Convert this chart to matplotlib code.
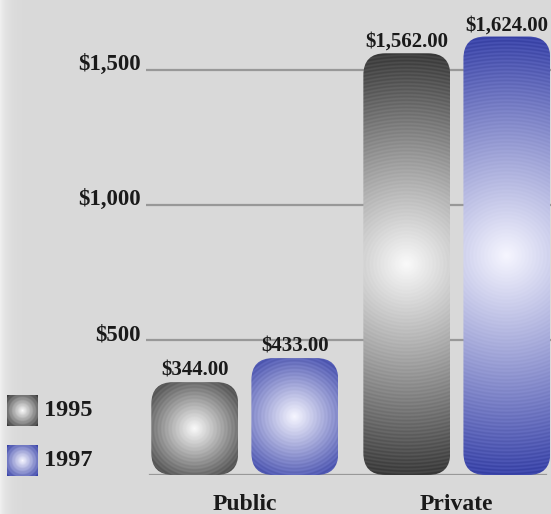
import numpy as np
import matplotlib
matplotlib.use("Agg")
import matplotlib.pyplot as plt
from matplotlib.patches import FancyBboxPatch
from matplotlib.transforms import blended_transform_factory

# ---- data -------------------------------------------------------------
categories = ["Public", "Private"]
years = ["1995", "1997"]
tuition_1995 = [344.00, 1562.00]
tuition_1997 = [433.00, 1624.00]
series = [tuition_1995, tuition_1997]
tick_values = [500, 1000, 1500]
tick_labels = ["$500", "$1,000", "$1,500"]

# ---- styling ----------------------------------------------------------
W, H, DPI = 551, 514, 100
BG = "#d9d9d9"
TEXT = "#1a1a1a"
GRID = "#989898"
CENTER = [np.array([250, 250, 250]) / 255, np.array([246, 246, 255]) / 255]
EDGE = [np.array([50, 50, 50]) / 255, np.array([48, 58, 160]) / 255]
FONT = "Liberation Serif"
plt.rcParams["ytick.alignment"] = "baseline"

fig = plt.figure(figsize=(W / DPI, H / DPI), dpi=DPI, facecolor=BG)

# background with a light strip along the left edge
bg_ax = fig.add_axes([0, 0, 1, 1], zorder=-5)
xs = np.arange(W)
shade = 0xd9 + (0xef - 0xd9) * np.exp(-xs / 7.0)
bg = np.tile((shade / 255)[None, :, None], (H, 1, 3))
bg_ax.imshow(bg, aspect="auto", extent=[0, 1, 0, 1], interpolation="bilinear")
bg_ax.set_axis_off()

# plotting area
ax = fig.add_axes([146 / W, 39 / H, 405 / W, 475 / H])
ax.set_facecolor("none")
ax.set_xlim(-0.466, 1.444)
ax.set_ylim(0, 475 / 0.27)
for s in ax.spines.values():
    s.set_visible(False)
ax.set_xticks([])
ax.set_yticks(tick_values)
ax.set_yticklabels(tick_labels, fontfamily=FONT, fontweight="bold",
                   fontsize=16.5, color=TEXT)
ax.tick_params(axis="y", length=0, pad=3.8)

for v in tick_values:
    ax.axhline(v, color=GRID, lw=1.6, zorder=1)
ax.axhline(0, xmin=0.01, xmax=0.988, color=GRID, lw=1.6, zorder=1)


def radial_image(wpx, hpx, c0, c1, ring=3.6):
    """Concentric banded radial gradient, white centre to dark edge."""
    yy, xx = np.mgrid[0:hpx, 0:wpx] + 0.5
    dx = xx - wpx / 2
    dy = yy - hpx / 2
    r = np.hypot(dx, dy)
    t = np.clip(r / np.hypot(wpx / 2, hpx / 2), 0, 1)
    img = c0[None, None, :] * (1 - t[..., None]) + c1[None, None, :] * t[..., None]
    band = 0.5 + 0.5 * np.cos(2 * np.pi * r / ring)
    img = img + (0.06 * band * t)[..., None]
    return np.clip(img, 0, 1)


# pixel/data scale factors
p0 = ax.transData.transform((0, 0))
p1 = ax.transData.transform((1, 1))
px_per_x = p1[0] - p0[0]
px_per_y = p1[1] - p0[1]
aspect = px_per_x / px_per_y

bar_w = 0.41
offsets = [-0.236, 0.236]
radius_px = 22

for si, vals in enumerate(series):
    for ci, val in enumerate(vals):
        xc = ci + offsets[si]
        x0 = xc - bar_w / 2
        wpx = int(round(bar_w * px_per_x))
        hpx = int(round(val * px_per_y))
        img = radial_image(wpx, hpx, CENTER[si], EDGE[si])
        im = ax.imshow(img, extent=[x0, x0 + bar_w, 0, val], aspect="auto",
                       interpolation="bilinear", zorder=3)
        clip = FancyBboxPatch((x0, 0), bar_w, val,
                              boxstyle=f"round,pad=0,rounding_size={radius_px / px_per_x}",
                              mutation_aspect=aspect, facecolor="none",
                              edgecolor="none", transform=ax.transData)
        ax.add_patch(clip)
        im.set_clip_path(clip)
        ax.annotate(f"${val:,.2f}", (xc, val), xytext=(0, 4.5),
                    textcoords="offset points", ha="center", va="baseline",
                    fontfamily=FONT, fontweight="bold", fontsize=15,
                    color=TEXT, zorder=4, annotation_clip=False)

# category labels
trans = blended_transform_factory(ax.transData, fig.transFigure)
for ci, name in enumerate(categories):
    ax.text(ci, (H - 510.5) / H, name, transform=trans, ha="center",
            va="baseline", fontfamily=FONT, fontweight="bold", fontsize=17,
            color=TEXT, clip_on=False)

# legend swatches
sw = 31
legend_tops = [395, 445]
for si, year in enumerate(years):
    top = legend_tops[si]
    sax = fig.add_axes([7 / W, (H - top - sw) / H, sw / W, sw / H])
    sax.imshow(radial_image(sw, sw, CENTER[si], EDGE[si], ring=3.2),
               aspect="auto", interpolation="bilinear")
    sax.set_axis_off()
    fig.text(44 / W, (H - top - 20.5) / H, year, ha="left", va="baseline",
             fontfamily=FONT, fontweight="bold", fontsize=17.5, color=TEXT)

fig.savefig("out.png", dpi=DPI, facecolor=BG)
